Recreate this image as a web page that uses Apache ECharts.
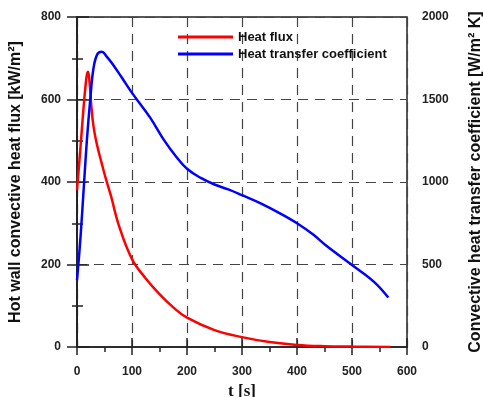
<!DOCTYPE html>
<html>
<head>
<meta charset="utf-8">
<script src="https://cdn.jsdelivr.net/npm/echarts@6/dist/echarts.min.js"></script>
<style>
  html, body { margin: 0; padding: 0; background: #fff; }
  #chart { width: 483px; height: 397px; }
</style>
</head>
<body>
<div id="chart"></div>
<script>
// heat flux [kW/m2] vs time [s]
const fluxT = [0, 6, 12, 16, 18, 20, 23, 26, 30, 36, 44, 52, 62, 76, 100, 125, 150, 175, 200, 250, 300, 350, 400, 450, 500, 570]
const fluxV = [380, 478, 582, 640, 660, 667, 640, 585, 535, 492, 450, 410, 365, 295, 213, 166, 128, 96, 71, 41, 24, 12, 5, 2, 1, 0]
// heat transfer coefficient [W/m2 K] vs time [s]
const htcT = [0, 6, 12, 18, 24, 30, 37, 45, 54, 64, 82, 100, 133, 157, 180, 200, 225, 250, 275, 300, 333, 369, 400, 430, 454, 500, 540, 566]
const htcV = [406, 648, 951, 1255, 1497, 1690, 1775, 1790, 1760, 1718, 1630, 1540, 1390, 1260, 1155, 1080, 1025, 985, 955, 920, 872, 810, 750, 680, 612, 497, 395, 300]
const xTicks = [0, 100, 200, 300, 400, 500, 600]
const leftTicks = [0, 200, 400, 600, 800]
const rightTicks = [0, 500, 1000, 1500, 2000]

const pairs = (xs, ys) => xs.map((x, i) => [x, ys[i]])

const labelFont = { fontFamily: 'Liberation Sans', fontWeight: 'bold', fontSize: 12, color: '#222' }
const axisColor = '#222'

const chart = echarts.init(document.getElementById('chart'))
chart.setOption({
  animation: false,
  grid: {
    left: 77, right: 76, top: 17, bottom: 50,
    outerBoundsMode: 'none', containLabel: false,
    show: true, borderColor: axisColor, borderWidth: 1.5
  },
  legend: {
    orient: 'vertical',
    left: 173, top: 25,
    itemWidth: 55, itemHeight: 3, itemGap: 3,
    icon: 'rect',
    textStyle: { fontFamily: 'Liberation Sans', fontWeight: 'bold', fontSize: 13, color: '#111', lineHeight: 14 },
    data: [
      { name: 'Heat flux', itemStyle: { color: '#ff0000' } },
      { name: 'Heat transfer coefficient', itemStyle: { color: '#0000ff' } }
    ]
  },
  xAxis: [{
    type: 'value',
    min: xTicks[0], max: xTicks[xTicks.length - 1], interval: 100,
    name: 't [s]', nameLocation: 'middle', nameGap: 29,
    nameTextStyle: { fontFamily: 'Liberation Serif', fontWeight: 'bold', fontSize: 17, color: '#111' },
    axisLine: { lineStyle: { color: axisColor, width: 1.5 } },
    axisTick: { length: 8, lineStyle: { color: axisColor, width: 1.5 } },
    minorTick: { show: true, splitNumber: 2, length: 5, lineStyle: { color: axisColor, width: 1.5 } },
    axisLabel: Object.assign({ margin: 19 }, labelFont),
    splitLine: { show: true, lineStyle: { color: '#444', width: 1.2, type: [10, 7], dashOffset: 0 } }
  }, {
    type: 'value', position: 'bottom',
    min: xTicks[0], max: xTicks[xTicks.length - 1], interval: 100,
    axisLine: { show: false },
    axisTick: { inside: true, length: 9, lineStyle: { color: axisColor, width: 1.5 } },
    axisLabel: { show: false },
    splitLine: { show: false }
  }],
  yAxis: [{
    type: 'value', min: leftTicks[0], max: leftTicks[leftTicks.length - 1], interval: 200,
    name: 'Hot wall convective heat flux [kW/m²]', nameLocation: 'middle', nameGap: 53,
    nameTextStyle: { fontFamily: 'Liberation Sans', fontWeight: 'bold', fontSize: 16, color: '#111' },
    axisLine: { show: true, lineStyle: { color: axisColor, width: 1.5 } },
    axisTick: { length: 10, lineStyle: { color: axisColor, width: 1.5 } },
    minorTick: { show: true, splitNumber: 2, length: 5, lineStyle: { color: axisColor, width: 1.5 } },
    axisLabel: Object.assign({ margin: 16 }, labelFont),
    splitLine: { show: true, lineStyle: { color: '#444', width: 1.2, type: [10, 7] } }
  }, {
    type: 'value', min: rightTicks[0], max: rightTicks[rightTicks.length - 1], interval: 500,
    name: 'Convective heat transfer coefficient [W/m² K]', nameLocation: 'middle', nameGap: 61,
    nameRotate: 90,
    nameTextStyle: { fontFamily: 'Liberation Sans', fontWeight: 'bold', fontSize: 16, color: '#111' },
    axisLine: { show: true, lineStyle: { color: axisColor, width: 1.5 } },
    axisTick: { length: 12, lineStyle: { color: axisColor, width: 1.5 } },
    minorTick: { show: true, splitNumber: 2, length: 6, lineStyle: { color: axisColor, width: 1.5 } },
    axisLabel: Object.assign({ margin: 15, formatter: v => String(v) }, labelFont),
    splitLine: { show: false }
  }],
  series: [{
    name: 'Heat flux', type: 'line', yAxisIndex: 0, xAxisIndex: 0,
    data: pairs(fluxT, fluxV), smooth: 0.4, showSymbol: false,
    lineStyle: { color: '#ff0000', width: 2.5 }, itemStyle: { color: '#ff0000' }
  }, {
    name: 'Heat transfer coefficient', type: 'line', yAxisIndex: 1, xAxisIndex: 0,
    data: pairs(htcT, htcV), smooth: 0.4, showSymbol: false,
    lineStyle: { color: '#0000ff', width: 2.5 }, itemStyle: { color: '#0000ff' }
  }]
})
</script>
</body>
</html>
